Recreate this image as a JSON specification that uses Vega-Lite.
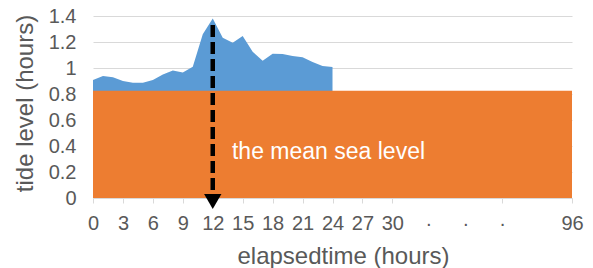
{
  "$schema": "https://vega.github.io/schema/vega-lite/v6.json",
  "width": 479,
  "height": 182,
  "autosize": {"type": "none"},
  "padding": {"left": 93, "top": 16, "right": 21, "bottom": 70},
  "data": {"values": [{}]},
  "config": {
    "view": {"stroke": null},
    "font": "Liberation Sans",
    "axis": {
      "labelFont": "Liberation Sans",
      "labelFontSize": 20,
      "labelColor": "#595959",
      "titleFont": "Liberation Sans",
      "titleFontSize": 24,
      "titleFontWeight": "normal",
      "titleColor": "#595959",
      "titleBaseline": "alphabetic",
      "titleAlign": "center"
    },
    "axisX": {
      "labelPadding": 10,
      "labelOverlap": false,
      "labelFlush": false,
      "labelBound": false,
      "tickSize": 5,
      "tickColor": "#D9D9D9",
      "domainColor": "#D9D9D9",
      "domainWidth": 1,
      "grid": false,
      "titleX": 250,
      "titleY": 65
    },
    "axisY": {
      "labelPadding": 17,
      "ticks": false,
      "domain": false,
      "grid": true,
      "gridColor": "#D9D9D9",
      "gridWidth": 1,
      "titleAngle": -90,
      "titleX": -61,
      "titleY": 87
    }
  },
  "datasets": {
    "tide": [
      {"elapsed": 0, "level": 0.908},
      {"elapsed": 1, "level": 0.938},
      {"elapsed": 2, "level": 0.928},
      {"elapsed": 3, "level": 0.9},
      {"elapsed": 4, "level": 0.887},
      {"elapsed": 5, "level": 0.887},
      {"elapsed": 6, "level": 0.908},
      {"elapsed": 7, "level": 0.95},
      {"elapsed": 8, "level": 0.98},
      {"elapsed": 9, "level": 0.965},
      {"elapsed": 10, "level": 1.01},
      {"elapsed": 11, "level": 1.26},
      {"elapsed": 12, "level": 1.38},
      {"elapsed": 13, "level": 1.233},
      {"elapsed": 14, "level": 1.195},
      {"elapsed": 15, "level": 1.246},
      {"elapsed": 16, "level": 1.125},
      {"elapsed": 17, "level": 1.056},
      {"elapsed": 18, "level": 1.11},
      {"elapsed": 19, "level": 1.108},
      {"elapsed": 20, "level": 1.092},
      {"elapsed": 21, "level": 1.082},
      {"elapsed": 22, "level": 1.046},
      {"elapsed": 23, "level": 1.015},
      {"elapsed": 24, "level": 1.008}
    ],
    "mean": [
      {"elapsed": 0, "level": 0.825},
      {"elapsed": 48, "level": 0.825}
    ]
  },
  "layer": [
    {
      "data": {"name": "tide"},
      "mark": {"type": "area", "color": "#5B9BD5", "interpolate": "linear"},
      "encoding": {
        "x": {
          "field": "elapsed",
          "type": "quantitative",
          "scale": {"domain": [0, 48], "nice": false, "zero": false},
          "axis": {
            "title": "elapsedtime (hours)",
            "values": [0, 3, 6, 9, 12, 15, 18, 21, 24, 27, 30, 33.6, 37.3, 41, 48],
            "format": "d",
            "labelExpr": "datum.value == 48 ? '96' : datum.value > 30 ? '·' : datum.label",
            "tickOpacity": {"condition": {"test": "datum.value % 1 != 0", "value": 0}, "value": 1}
          }
        },
        "y": {
          "field": "level",
          "type": "quantitative",
          "scale": {"domain": [0, 1.4], "nice": false},
          "axis": {
            "title": "tide level (hours)",
            "values": [0, 0.2, 0.4, 0.6, 0.8, 1, 1.2, 1.4],
            "format": "~g"
          }
        }
      }
    },
    {
      "data": {"name": "mean"},
      "mark": {"type": "area", "color": "#ED7D31"},
      "encoding": {
        "x": {
          "field": "elapsed",
          "type": "quantitative",
          "axis": {
            "title": "elapsedtime (hours)",
            "values": [0, 3, 6, 9, 12, 15, 18, 21, 24, 27, 30, 33.6, 37.3, 41, 48],
            "format": "d",
            "labelExpr": "datum.value == 48 ? '96' : datum.value > 30 ? '·' : datum.label",
            "tickOpacity": {"condition": {"test": "datum.value % 1 != 0", "value": 0}, "value": 1}
          }
        },
        "y": {
          "field": "level",
          "type": "quantitative",
          "axis": {
            "title": "tide level (hours)",
            "values": [0, 0.2, 0.4, 0.6, 0.8, 1, 1.2, 1.4],
            "format": "~g"
          }
        }
      }
    },
    {
      "mark": {"type": "text", "text": "the mean sea level", "color": "#FFFFFF", "fontSize": 23, "font": "Liberation Sans", "align": "center", "baseline": "alphabetic"},
      "encoding": {
        "x": {
          "datum": 23.6,
          "type": "quantitative",
          "axis": {
            "title": "elapsedtime (hours)",
            "values": [0, 3, 6, 9, 12, 15, 18, 21, 24, 27, 30, 33.6, 37.3, 41, 48],
            "format": "d",
            "labelExpr": "datum.value == 48 ? '96' : datum.value > 30 ? '·' : datum.label",
            "tickOpacity": {"condition": {"test": "datum.value % 1 != 0", "value": 0}, "value": 1}
          }
        },
        "y": {
          "datum": 0.298,
          "type": "quantitative",
          "axis": {
            "title": "tide level (hours)",
            "values": [0, 0.2, 0.4, 0.6, 0.8, 1, 1.2, 1.4],
            "format": "~g"
          }
        }
      }
    },
    {
      "mark": {"type": "rule", "color": "#000000", "strokeWidth": 4.5, "strokeDash": [12, 5]},
      "encoding": {
        "x": {
          "datum": 12,
          "type": "quantitative",
          "axis": {
            "title": "elapsedtime (hours)",
            "values": [0, 3, 6, 9, 12, 15, 18, 21, 24, 27, 30, 33.6, 37.3, 41, 48],
            "format": "d",
            "labelExpr": "datum.value == 48 ? '96' : datum.value > 30 ? '·' : datum.label",
            "tickOpacity": {"condition": {"test": "datum.value % 1 != 0", "value": 0}, "value": 1}
          }
        },
        "y": {
          "datum": 1.33,
          "type": "quantitative",
          "axis": {
            "title": "tide level (hours)",
            "values": [0, 0.2, 0.4, 0.6, 0.8, 1, 1.2, 1.4],
            "format": "~g"
          }
        },
        "y2": {"datum": 0.015}
      }
    },
    {
      "mark": {"type": "point", "shape": "triangle-down", "filled": true, "color": "#000000", "opacity": 1, "size": 300},
      "encoding": {
        "x": {
          "datum": 12,
          "type": "quantitative",
          "axis": {
            "title": "elapsedtime (hours)",
            "values": [0, 3, 6, 9, 12, 15, 18, 21, 24, 27, 30, 33.6, 37.3, 41, 48],
            "format": "d",
            "labelExpr": "datum.value == 48 ? '96' : datum.value > 30 ? '·' : datum.label",
            "tickOpacity": {"condition": {"test": "datum.value % 1 != 0", "value": 0}, "value": 1}
          }
        },
        "y": {
          "datum": -0.027,
          "type": "quantitative",
          "axis": {
            "title": "tide level (hours)",
            "values": [0, 0.2, 0.4, 0.6, 0.8, 1, 1.2, 1.4],
            "format": "~g"
          }
        }
      }
    }
  ]
}
